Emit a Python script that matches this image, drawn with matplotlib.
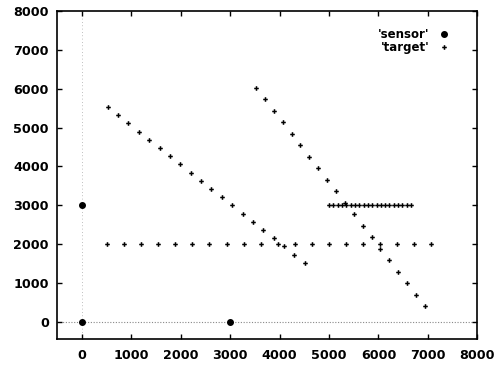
import matplotlib
matplotlib.use("Agg")
import matplotlib.pyplot as plt

# ---- data ----
sensor_x = [0, 0, 3000]
sensor_y = [3000, 0, 0]

# target: four tracks
track_a_x = [510, 855, 1200, 1545, 1890, 2235, 2580, 2925, 3270, 3615,
             3960, 4305, 4650, 4995, 5340, 5685, 6030, 6375, 6720, 7065]
track_a_y = [2000] * 20

track_b_x = [520, 730, 940, 1150, 1360, 1570, 1780, 1990, 2200, 2410,
             2620, 2830, 3040, 3250, 3460, 3670, 3880, 4090, 4300, 4510]
track_b_y = [5530, 5319, 5108, 4897, 4686, 4475, 4264, 4053, 3842, 3631,
             3420, 3209, 2998, 2787, 2576, 2365, 2154, 1943, 1732, 1521]

track_c_x = [3520, 3700, 3880, 4060, 4240, 4420, 4600, 4780, 4960, 5140,
             5320, 5500, 5680, 5860, 6040, 6220, 6400, 6580, 6760, 6940]
track_c_y = [6030, 5734, 5438, 5142, 4846, 4550, 4254, 3958, 3662, 3366,
             3070, 2774, 2478, 2182, 1886, 1590, 1294, 998, 702, 406]

track_d_x = [5000, 5087, 5175, 5262, 5350, 5437, 5524, 5612, 5699, 5786,
             5874, 5961, 6048, 6136, 6223, 6310, 6398, 6485, 6573, 6660]
track_d_y = [3000] * 20

x_ticks = [0, 1000, 2000, 3000, 4000, 5000, 6000, 7000, 8000]
y_ticks = [0, 1000, 2000, 3000, 4000, 5000, 6000, 7000, 8000]

target_x = track_a_x + track_b_x + track_c_x + track_d_x
target_y = track_a_y + track_b_y + track_c_y + track_d_y

# ---- figure ----
fig = plt.figure(figsize=(5.02, 3.68), dpi=100)
ax = fig.add_axes([57.3 / 502, 1 - 339.3 / 368, 420 / 502, 328.3 / 368])

ax.set_xlim(-500, 8000)
ax.set_ylim(-450, 8000)

# zero axes (dotted)
ax.axhline(0, color="#888888", lw=0.8, ls=(0, (1, 1.5)), zorder=1)
ax.axvline(0, color="#aaaaaa", lw=0.6, ls=(0, (1, 3)), zorder=1)

ax.plot(sensor_x, sensor_y, ls="none", marker="o", ms=4.0, color="black",
        label="'sensor'", zorder=3)
ax.plot(target_x, target_y, ls="none", marker="P", ms=3.3, color="black",
        markeredgewidth=0, label="'target'", zorder=3)

ax.set_xticks(x_ticks)
ax.set_yticks(y_ticks)
ax.set_xticklabels([str(v) for v in x_ticks])
ax.set_yticklabels([str(v) for v in y_ticks])

ax.tick_params(direction="in", length=3.5, width=1.0, top=True, right=True,
               labelsize=9.2)
ax.tick_params(axis="x", pad=7)
ax.tick_params(axis="y", pad=6)
for lab in ax.get_xticklabels() + ax.get_yticklabels():
    lab.set_fontweight("bold")
    lab.set_family("DejaVu Sans")

for s in ax.spines.values():
    s.set_linewidth(1.2)
    s.set_color("black")

leg = ax.legend(loc="upper right", frameon=False, markerfirst=False,
                prop={"weight": "bold", "size": 8.5, "family": "DejaVu Sans"},
                handlelength=1.2, handletextpad=0.6, labelspacing=0.05,
                borderaxespad=0.6, bbox_to_anchor=(0.965, 0.985))

fig.savefig("out.png", dpi=100)
